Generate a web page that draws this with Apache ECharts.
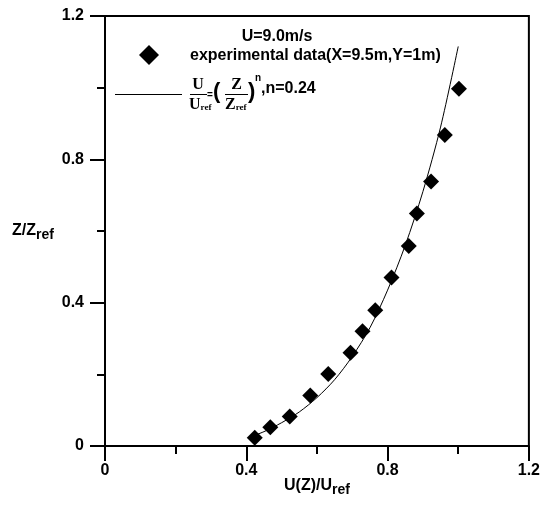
<!DOCTYPE html>
<html><head><meta charset="utf-8">
<script src="https://cdn.jsdelivr.net/npm/echarts@6/dist/echarts.min.js"></script>
<style>html,body{margin:0;padding:0;background:#fff}#c{width:543px;height:505px}</style>
</head><body><div id="c"></div>
<script>
// experimental data (U/Uref, Z/Zref)
const expX = [0.424,0.468,0.523,0.581,0.632,0.695,0.729,0.765,0.811,0.860,0.883,0.923,0.962,1.002];
const expY = [0.023,0.052,0.082,0.141,0.201,0.260,0.320,0.379,0.470,0.558,0.649,0.738,0.868,0.997];
// fitted power-law curve
const fitX = [0.41,0.45,0.50,0.55,0.60,0.65,0.70,0.75,0.80,0.85,0.90,0.95,1.00];
const fitY = [0.025,0.04,0.065,0.095,0.135,0.185,0.25,0.33,0.435,0.56,0.71,0.89,1.115];
const xTickLabels = ['0','0.4','0.8','1.2'];
const yTickLabels = ['0','0.4','0.8','1.2'];

const SANS = '"Liberation Sans", Arial, sans-serif';
const SERIF = '"Liberation Serif", "Times New Roman", serif';
const cv = document.createElement('canvas').getContext('2d');
function tw(t, font){ cv.font = font; return cv.measureText(t).width; }

const chart = echarts.init(document.getElementById('c'), null, {renderer:'canvas'});

function txt(text, x, y, font, align){
  return {type:'text', z:100, style:{text:text, x:x, y:y, font:font, fill:'#000',
    align:align||'left', verticalAlign:'middle', textAlign:align||'left', textVerticalAlign:'middle'}};
}
function ln(x1,y1,x2,y2,w){
  return {type:'line', z:100, shape:{x1:x1,y1:y1,x2:x2,y2:y2}, style:{stroke:'#000', lineWidth:w||1}};
}

const F16 = 'bold 16px ' + SANS;
const F14 = 'bold 14px ' + SANS;
const graphics = [];
// axis names
const xMain = 'U(Z)/U', yMain = 'Z/Z';
const xmw = tw(xMain, F16), xsw = tw('ref', F14);
const xStart = 317 - (xmw + xsw)/2;
graphics.push(txt(xMain, xStart, 486, F16));
graphics.push(txt('ref', xStart + xmw, 490, F14));
const ymw = tw(yMain, F16);
graphics.push(txt(yMain, 12, 231, F16));
graphics.push(txt('ref', 12 + ymw, 235, F14));
// legend
graphics.push(txt('U=9.0m/s', 277, 37, F16, 'center'));
graphics.push({type:'polygon', z:100, shape:{points:[[149,45],[159,55],[149,65],[139,55]]}, style:{fill:'#000'}});
graphics.push(txt('experimental data(X=9.5m,Y=1m)', 190, 56, F16));
graphics.push(ln(115,94.5,182,94.5,1));
// formula U/Uref=(Z/Zref)^n,n=0.24
const FS = 'bold 16px ' + SERIF, FSs = 'bold 9px ' + SERIF;
graphics.push(txt('U', 198, 85, FS, 'center'));
graphics.push(ln(190,94.5,207,94.5,1));
graphics.push(txt('U', 189, 105, FS));
graphics.push(txt('ref', 189 + tw('U', FS), 108, FSs));
graphics.push(txt('=', 207, 95, 'bold 10px ' + SANS));
graphics.push(txt('(', 213, 92, 'bold 22px ' + SANS));
graphics.push(txt('Z', 236.5, 85, FS, 'center'));
graphics.push(ln(225,94.5,248,94.5,1));
graphics.push(txt('Z', 225, 105, FS));
graphics.push(txt('ref', 225 + tw('Z', FS), 108, FSs));
graphics.push(txt(')', 248, 92, 'bold 22px ' + SANS));
graphics.push(txt('n', 255, 78, 'bold 10px ' + SANS));
graphics.push(txt(',n=0.24', 261, 89, F16));

const axisCommon = {
  type:'value', min:0, max:1.2, interval:0.4,
  axisLine:{show:true, onZero:false, lineStyle:{color:'#000', width:2}},
  axisTick:{show:true, inside:false, length:15, lineStyle:{color:'#000', width:2}},
  minorTick:{show:true, splitNumber:2, length:8, lineStyle:{color:'#000', width:2}},
  splitLine:{show:false}, minorSplitLine:{show:false}
};

chart.setOption({
  animation:false,
  backgroundColor:'#fff',
  grid:{left:105, top:16, width:429, height:430, show:true, borderColor:'#000', borderWidth:2, backgroundColor:'transparent'},
  xAxis: Object.assign({}, axisCommon, {
    axisLabel:{color:'#000', fontFamily:SANS, fontWeight:'bold', fontSize:16, margin:17,
      formatter:(v)=>xTickLabels[Math.round(v/0.4)]}
  }),
  yAxis: Object.assign({}, axisCommon, {
    axisLabel:{color:'#000', fontFamily:SANS, fontWeight:'bold', fontSize:16, margin:21,
      formatter:(v)=>yTickLabels[Math.round(v/0.4)]}
  }),
  series:[
    {type:'line', data:fitX.map((x,i)=>[x, fitY[i]]), smooth:0.3, showSymbol:false, symbol:'none',
     lineStyle:{color:'#000', width:1}, z:2, silent:true},
    {type:'scatter', data:expX.map((x,i)=>[x, expY[i]]), symbol:'diamond', symbolSize:16,
     itemStyle:{color:'#000', opacity:1}, z:3}
  ],
  graphic: graphics
});
</script></body></html>
